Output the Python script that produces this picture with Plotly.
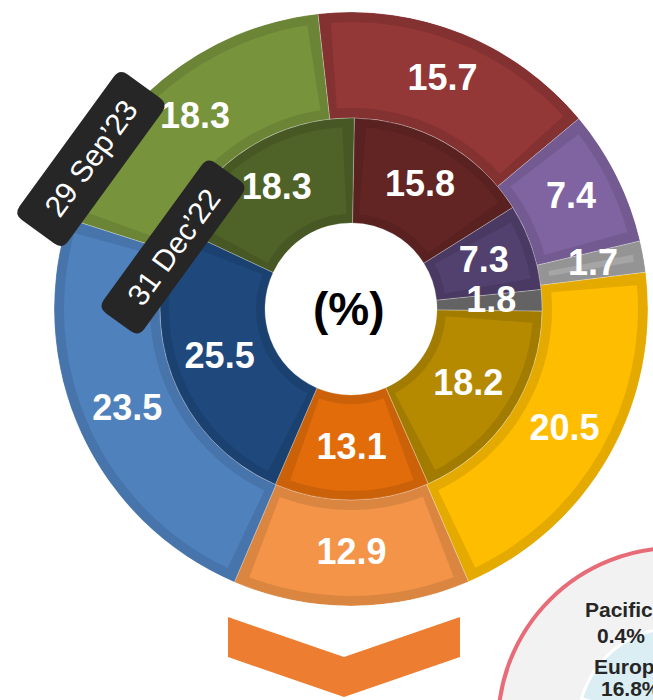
import numpy as np
import plotly.graph_objects as go

# ---------------------------------------------------------------- data
# share of each segment (%), outer ring = latest date, inner ring = prior date
outer_values = [15.7, 7.4, 1.7, 20.5, 12.9, 23.5, 18.3]
inner_values = [15.8, 7.3, 1.8, 18.2, 13.1, 25.5, 18.3]
ring_dates = ["29 Sep’23", "31 Dec’22"]
center_unit = "(%)"

# side panel (regional split) labels
side_labels = ["Pacific", "Europe"]
side_values = [0.4, 16.8]

# ---------------------------------------------------------------- style
outer_colors = ["#933737", "#8064A2", "#A5A5A5", "#FFBD00", "#F39448", "#4F81BD", "#77933C"]
inner_colors = ["#632523", "#52406E", "#6E6E6E", "#B58A00", "#E26C0A", "#1F497D", "#4F6228"]

W, H = 653, 700
CX, CY = 351, 309          # ring centre in pixels (from top-left)
R_OUT, R_MID, R_HOLE = 297, 191, 86


def darker(hex_color, f=0.9):
    h = hex_color.lstrip("#")
    rgb = [int(h[i:i + 2], 16) for i in (0, 2, 4)]
    return "rgb({},{},{})".format(*[int(c * f) for c in rgb])


def ring_traces(values, rotation, r0, r1, colors, border):
    v = np.asarray(values, dtype=float)
    start = np.cumsum(v) - v
    theta = rotation + (start + v / 2) / v.sum() * 360.0
    width = v / v.sum() * 360.0
    n = len(v)
    rmid = (r0 + r1) / 2
    dtheta = np.degrees(border / rmid)
    frame = go.Barpolar(
        r=[r1 - r0] * n, base=[r0] * n, theta=theta, width=width,
        marker=dict(color=[darker(c) for c in colors],
                    line=dict(color="rgba(255,255,255,0.25)", width=1)),
        hoverinfo="skip", showlegend=False,
    )
    face = go.Barpolar(
        r=[r1 - r0 - 2 * border] * n, base=[r0 + border] * n, theta=theta,
        width=np.clip(width - 2 * dtheta, 0.01, None),
        marker=dict(color=colors, line=dict(width=0)),
        hoverinfo="skip", showlegend=False,
    )
    labels = go.Scatterpolar(
        r=[rmid + 2] * n, theta=theta, mode="text",
        text=[f"{x:.1f}" for x in v],
        textfont=dict(family="Liberation Sans, Arial", size=36, color="white", weight="bold"),
        hoverinfo="skip", showlegend=False,
    )
    return [frame, face], labels


outer_bars, outer_text = ring_traces(outer_values, -6.4, R_MID, R_OUT, outer_colors, 10)
inner_bars, inner_text = ring_traces(inner_values, 1.0, R_HOLE, R_MID, inner_colors, 9)

fig = go.Figure(outer_bars + inner_bars + [outer_text, inner_text])

fig.update_layout(
    width=W, height=H, margin=dict(l=0, r=0, t=0, b=0),
    paper_bgcolor="white", plot_bgcolor="white", showlegend=False,
    polar=dict(
        domain=dict(x=[(CX - R_OUT) / W, (CX + R_OUT) / W],
                    y=[(H - CY - R_OUT) / H, (H - CY + R_OUT) / H]),
        bgcolor="rgba(0,0,0,0)", barmode="overlay", bargap=0, hole=0,
        radialaxis=dict(range=[0, R_OUT], visible=False),
        angularaxis=dict(rotation=90, direction="clockwise", visible=False),
    ),
)


def px(x, y):
    return x / W, 1 - y / H


def path_from(points_px, closed=True):
    s = ""
    for i, (x, y) in enumerate(points_px):
        X, Y = px(x, y)
        s += ("M" if i == 0 else "L") + f"{X:.5f},{Y:.5f} "
    return s + ("Z" if closed else "")


def rounded_box(cx, cy, length, thick, angle_deg, rad):
    a = np.radians(angle_deg)
    u = np.array([np.cos(a), -np.sin(a)])
    v = np.array([np.sin(a), np.cos(a)])
    loc = [(-length / 2, -thick / 2), (length / 2, -thick / 2),
           (length / 2, thick / 2), (-length / 2, thick / 2)]
    pts = [np.array([cx, cy]) + p[0] * u + p[1] * v for p in loc]
    s = ""
    for i in range(4):
        c, p, n = pts[i], pts[i - 1], pts[(i + 1) % 4]
        a1 = c + rad * (p - c) / np.linalg.norm(p - c)
        b1 = c + rad * (n - c) / np.linalg.norm(n - c)
        A, C, B = px(*a1), px(*c), px(*b1)
        s += ("M" if i == 0 else "L") + f"{A[0]:.5f},{A[1]:.5f} "
        s += f"Q{C[0]:.5f},{C[1]:.5f} {B[0]:.5f},{B[1]:.5f} "
    return s + "Z"


def text_at(x, y, text, size, color, bold=False, angle=0):
    X, Y = px(x, y)
    font = dict(family="Liberation Sans, Arial", size=size, color=color)
    if bold:
        font["weight"] = "bold"
    return dict(x=X, y=Y, xref="paper", yref="paper", text=text, showarrow=False,
                xanchor="center", yanchor="middle", textangle=angle, font=font)


shapes = []
annotations = []

# date tags across the rings
for (bx, by, blen, bthk), date in zip([(91, 159, 180, 60), (173, 247, 186, 50)], ring_dates):
    shapes.append(dict(type="path", xref="paper", yref="paper", layer="above",
                       path=rounded_box(bx, by, blen, bthk, 54, 10),
                       fillcolor="#262626", line=dict(width=0)))
    annotations.append(text_at(bx, by, date, 30, "white", angle=-54))

# unit in the hole
annotations.append(text_at(CX - 2, CY, center_unit, 46, "black", bold=True))

# downward chevron
shapes.append(dict(type="path", xref="paper", yref="paper", layer="above",
                   path=path_from([(228, 617), (344, 657), (460, 617), (460, 657), (344, 697), (228, 657)]),
                   fillcolor="#ED7D31", line=dict(width=0)))

# regional panel (partially in view)
PX, PY, PR, PRI = 675, 725, 177, 97
x0, y1 = px(PX - PR, PY - PR)
x1, y0 = px(PX + PR, PY + PR)
shapes.append(dict(type="circle", xref="paper", yref="paper", layer="below",
                   x0=x0, x1=x1, y0=y0, y1=y1, fillcolor="#F2F2F2",
                   line=dict(color="#E76C78", width=4)))
x0, y1 = px(PX - PRI, PY - PRI)
x1, y0 = px(PX + PRI, PY + PRI)
shapes.append(dict(type="circle", xref="paper", yref="paper", layer="below",
                   x0=x0, x1=x1, y0=y0, y1=y1, fillcolor="#DAEEF3",
                   line=dict(color="white", width=3)))
ang = np.radians(np.linspace(164, 230, 12))
wedge = [(PX, PY)] + [(PX + PRI * np.cos(t), PY - PRI * np.sin(t)) for t in ang]
shapes.append(dict(type="path", xref="paper", yref="paper", layer="below",
                   path=path_from(wedge), fillcolor="#1F3864",
                   line=dict(color="white", width=2)))

for (lx, ly), word in zip([(619, 609), (630, 666)], side_labels):
    annotations.append(text_at(lx, ly, word, 21, "#262626", bold=True))
for (lx, ly), val in zip([(621, 635), (631, 688)], side_values):
    annotations.append(text_at(lx, ly, f"{val:.1f}%", 21, "#262626", bold=True))

fig.update_layout(shapes=shapes, annotations=annotations)
fig.write_html("out.html")
